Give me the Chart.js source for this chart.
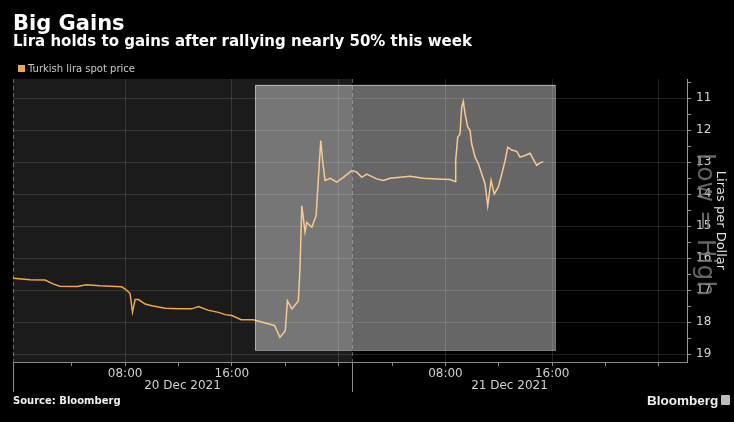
<!DOCTYPE html>
<html>
<head>
<meta charset="utf-8">
<script src="https://cdn.jsdelivr.net/npm/chart.js@4.4.0/dist/chart.umd.min.js"></script>
<style>
  html, body { margin: 0; padding: 0; background: #000; }
  #wrap { position: relative; width: 734px; height: 422px; overflow: hidden; background: #000; font-family: 'DejaVu Sans', sans-serif; }
  #chart { position: absolute; left: 0; top: 0; }
  .txt { position: absolute; white-space: nowrap; line-height: 1; }
  #title { left: 13px; top: 13px; font-size: 21px; font-weight: bold; color: #fff; }
  #subtitle { left: 13px; top: 34px; font-size: 15px; font-weight: bold; color: #fff; }
  #legend { left: 18px; top: 64px; font-size: 10px; color: #c8c8c8; line-height: 10px; }
  #legend i { display: inline-block; width: 7px; height: 7px; background: #f2a845; margin-right: 3px; vertical-align: 0; }
  #source { left: 13px; top: 396px; font-size: 10px; font-weight: bold; color: #eee; }
  #brand { left: 647px; top: 394px; font-family: 'Liberation Sans', sans-serif; font-size: 13.5px; font-weight: bold; color: #f2f2f2; }
  #brand-icon { position: absolute; left: 721px; top: 395px; width: 9px; height: 10px; background: #bdbdbd; border-radius: 1px; }
</style>
</head>
<body>
<div id="wrap">
  <canvas id="chart" width="734" height="422"></canvas>
  <div class="txt" id="title">Big Gains</div>
  <div class="txt" id="subtitle">Lira holds to gains after rallying nearly 50% this week</div>
  <div class="txt" id="legend"><i></i>Turkish lira spot price</div>
  <div class="txt" id="source">Source: Bloomberg</div>
  <div class="txt" id="brand">Bloomberg</div>
  <div id="brand-icon"></div>
</div>
<script>
// heures depuis le 20 déc. 00:00
const hours = [-0.4, 0.9, 2.0, 2.6, 3.1, 4.4, 5.1, 6.1, 6.9, 7.75, 8.1, 8.37, 8.55, 8.75, 9.0, 9.5, 10.0, 11.0, 12.0, 13.0,
  13.5, 14.2, 15.0, 15.5, 16.0, 16.7, 17.6, 18.5, 19.2, 19.6, 20.0, 20.16, 20.5, 20.98, 21.1, 21.24, 21.48, 21.61, 21.99, 22.31,
  22.48, 22.66, 22.81, 22.98, 23.36, 23.86, 24.35, 24.98, 25.36, 25.73, 26.1, 26.85, 27.35, 27.85, 28.6, 29.35, 30.34, 31.35, 32.34, 32.72,
  32.77, 32.92, 33.09, 33.22, 33.34, 33.47, 33.67, 33.84, 33.97, 34.22, 34.47, 34.72, 34.97, 35.17, 35.42, 35.66, 35.96, 36.22, 36.47, 36.67,
  36.97, 37.34, 37.59, 37.96, 38.34, 38.58, 38.84, 39.09, 39.33];
const spot = [16.62, 16.67, 16.68, 16.80, 16.87, 16.88, 16.83, 16.86, 16.87, 16.89, 16.99, 17.10, 17.68, 17.29, 17.29, 17.43, 17.48, 17.56, 17.58, 17.58,
  17.51, 17.62, 17.69, 17.76, 17.79, 17.92, 17.92, 18.02, 18.10, 18.47, 18.26, 17.33, 17.58, 17.33, 16.33, 14.36, 15.18, 14.88, 15.03, 14.67,
  13.52, 12.32, 13.00, 13.57, 13.50, 13.62, 13.47, 13.26, 13.31, 13.47, 13.37, 13.52, 13.57, 13.50, 13.47, 13.44, 13.50, 13.52, 13.54, 13.60,
  12.95, 12.22, 12.12, 11.28, 11.10, 11.49, 11.90, 12.00, 12.43, 12.84, 13.05, 13.37, 13.68, 14.36, 13.57, 13.99, 13.78, 13.37, 12.95, 12.53,
  12.62, 12.66, 12.84, 12.79, 12.72, 12.90, 13.10, 13.02, 12.98];

const xTickHours = [4, 8, 12, 16, 20, 24, 28, 32, 36, 40, 44, 48];
const xLabelHours = [8, 16, 32, 40];
const xLabels = ['08:00', '16:00', '08:00', '16:00'];
const dayLabels = ['20 Dec 2021', '21 Dec 2021'];
const dayLabelHours = [12.3, 36.8];
const dayBreak = 25;
const yTicks = [11, 12, 13, 14, 15, 16, 17, 18, 19];
// zone mise en évidence (heures / lires)
const band = { from: 17.74, to: 40.21, top: 10.58, bottom: 18.87 };

const FONT = "'DejaVu Sans', sans-serif";
Chart.defaults.font.family = FONT;

const decor = {
  id: 'decor',
  beforeDraw(chart) {
    const { ctx, chartArea: a, scales: { x } } = chart;
    ctx.save();
    ctx.fillStyle = '#1b1b1b';
    ctx.fillRect(a.left, a.top, x.getPixelForValue(dayBreak) - a.left, a.bottom - a.top);
    ctx.restore();
  },
  afterDatasetsDraw(chart) {
    const { ctx, chartArea: a, scales: { x, y } } = chart;
    ctx.save();
    // bande claire par-dessus la courbe
    const bx = x.getPixelForValue(band.from), bx2 = x.getPixelForValue(band.to);
    const by = y.getPixelForValue(band.top), by2 = y.getPixelForValue(band.bottom);
    ctx.fillStyle = 'rgba(255,255,255,0.4)';
    ctx.fillRect(bx, by, bx2 - bx, by2 - by);
    ctx.strokeStyle = 'rgba(255,255,255,0.45)';
    ctx.lineWidth = 1;
    ctx.strokeRect(Math.round(bx) + 0.5, Math.round(by) + 0.5, Math.round(bx2 - bx), Math.round(by2 - by));
    // séparateurs de jour
    ctx.strokeStyle = 'rgba(200,200,200,0.45)';
    ctx.setLineDash([4, 3]);
    [x.min, dayBreak].forEach(h => {
      const px = Math.round(x.getPixelForValue(h)) + 0.5;
      ctx.beginPath();
      ctx.moveTo(px, a.top);
      ctx.lineTo(px, a.bottom);
      ctx.stroke();
    });
    ctx.restore();
  },
  afterDraw(chart) {
    const { ctx, chartArea: a, scales: { x } } = chart;
    ctx.save();
    // traits longs sous l'axe
    ctx.strokeStyle = '#8a8a8a';
    ctx.lineWidth = 1;
    [x.min, dayBreak].forEach(h => {
      const px = Math.round(x.getPixelForValue(h)) + 0.5;
      ctx.beginPath();
      ctx.moveTo(px, a.bottom);
      ctx.lineTo(px, a.bottom + 30);
      ctx.stroke();
    });
    // dates
    ctx.fillStyle = '#cfcfcf';
    ctx.font = '12px ' + FONT;
    ctx.textAlign = 'center';
    ctx.textBaseline = 'middle';
    dayLabels.forEach((d, i) => ctx.fillText(d, x.getPixelForValue(dayLabelHours[i]), a.bottom + 24));
    // filigrane
    ctx.translate(704, (a.top + a.bottom) / 2 + 4);
    ctx.rotate(Math.PI / 2);
    ctx.fillStyle = 'rgba(125,125,125,0.8)';
    ctx.font = '25px ' + FONT;
    ctx.fillText('Low = High', 0, 0);
    ctx.restore();
  }
};

new Chart(document.getElementById('chart').getContext('2d'), {
  type: 'line',
  data: {
    datasets: [{
      label: 'Turkish lira spot price',
      data: hours.map((h, i) => ({ x: h, y: spot[i] })),
      borderColor: '#f2a845',
      borderWidth: 1.5,
      pointRadius: 0,
      tension: 0
    }]
  },
  options: {
    responsive: false,
    animation: false,
    layout: { padding: { left: 13, top: 79, right: 0, bottom: 0 } },
    scales: {
      x: {
        type: 'linear',
        min: -0.4,
        max: 50.1,
        afterBuildTicks: s => { s.ticks = xTickHours.map(v => ({ value: v })); },
        afterFit: s => { s.height = 60; },
        border: { color: '#8a8a8a' },
        grid: {
          color: c => (c.tick && c.tick.value % 8 === 0) ? 'rgba(255,255,255,0.13)' : 'transparent',
          tickColor: '#8a8a8a',
          tickLength: 4
        },
        ticks: {
          color: '#cfcfcf',
          font: { size: 12 },
          padding: 1,
          maxRotation: 0,
          autoSkip: false,
          callback: v => {
            const i = xLabelHours.indexOf(v);
            return i >= 0 ? xLabels[i] : '';
          }
        }
      },
      y: {
        position: 'right',
        reverse: true,
        min: 10.4,
        max: 19.24,
        afterBuildTicks: s => { s.ticks = yTicks.flatMap(v => [v - 0.5, v]).map(v => ({ value: v })); },
        afterFit: s => { s.width = 47; },
        border: { color: '#9a9a9a' },
        grid: {
          color: c => (c.tick && Number.isInteger(c.tick.value)) ? 'rgba(255,255,255,0.13)' : 'transparent',
          tickColor: '#9a9a9a',
          tickLength: 4
        },
        ticks: {
          color: '#d0d0d0',
          font: { size: 12 },
          padding: 5,
          autoSkip: false,
          callback: v => Number.isInteger(v) ? v : ''
        },
        title: {
          display: true,
          text: 'Liras per Dollar',
          color: '#e0e0e0',
          font: { size: 13 },
          padding: { top: 6, bottom: 0 }
        }
      }
    },
    plugins: {
      legend: { display: false },
      tooltip: { enabled: false }
    }
  },
  plugins: [decor]
});
</script>
</body>
</html>
